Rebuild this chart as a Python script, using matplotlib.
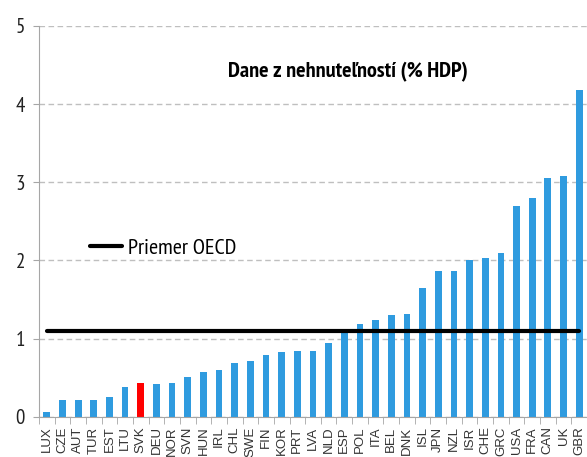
import matplotlib
matplotlib.use("Agg")
import matplotlib.pyplot as plt
from matplotlib.ticker import FixedLocator
from matplotlib import font_manager

countries = ["LUX", "CZE", "AUT", "TUR", "EST", "LTU", "SVK", "DEU", "NOR", "SVN",
             "HUN", "IRL", "CHL", "SWE", "FIN", "KOR", "PRT", "LVA", "NLD", "ESP",
             "POL", "ITA", "BEL", "DNK", "ISL", "JPN", "NZL", "ISR", "CHE", "GRC",
             "USA", "FRA", "CAN", "UK", "GBR"]
values = [0.06, 0.21, 0.22, 0.22, 0.25, 0.38, 0.43, 0.42, 0.43, 0.51,
          0.57, 0.60, 0.69, 0.71, 0.79, 0.83, 0.84, 0.84, 0.94, 1.08,
          1.18, 1.24, 1.30, 1.31, 1.65, 1.87, 1.87, 2.01, 2.03, 2.09,
          2.70, 2.80, 3.05, 3.08, 4.18]
highlight = "SVK"
oecd_avg = 1.10
yticks = [0, 1, 2, 3, 4, 5]
title = "Dane z nehnuteľností (% HDP)"
legend_label = "Priemer OECD"

candidates = ["Liberation Sans Narrow", "Arial Narrow", "PT Sans Narrow", "Roboto Condensed",
              "Archivo Narrow", "Asap Condensed", "Barlow Condensed"]
fl = font_manager.fontManager.ttflist
reg_names = {f.name for f in fl if f.style == "normal"}
bold_names = {f.name for f in fl if f.style == "normal" and isinstance(f.weight, int) and f.weight >= 700}
narrow = next((c for c in candidates if c in reg_names), "Liberation Sans")
narrow_b = next((c for c in candidates if c in bold_names), "Liberation Sans")

fig = plt.figure(figsize=(5.87, 4.57), dpi=100)
ax = fig.add_axes([39/587, 1 - 416.7/457, 1 - 39/587, (416.7 - 26)/457])

x = list(range(len(countries)))
colors = ["#FF0000" if c == highlight else "#2F9BDF" for c in countries]
ax.bar(x, values, width=0.43, color=colors, zorder=2)
ax.plot([0, len(countries) - 1], [oecd_avg, oecd_avg], color="black", lw=3, zorder=3,
        label=legend_label, solid_capstyle="round")

ax.set_xlim(-0.5, len(countries) - 0.5)
ax.set_ylim(0, 5)
ax.set_yticks(yticks)
ax.set_yticklabels([str(t) for t in yticks], fontsize=15, family=narrow, color="#222222")
ax.yaxis.grid(True, linestyle=(0, (4, 2.5)), color="#BFBFBF", lw=1, zorder=0)
ax.set_axisbelow(True)

ax.set_xticks(x)
ax.set_xticklabels(countries, rotation=90, fontsize=9.5, family="Liberation Sans", color="#333333")
ax.tick_params(axis="x", which="major", length=0, pad=7)
ax.xaxis.set_minor_locator(FixedLocator([i - 0.5 for i in range(len(countries) + 1)]))
ax.tick_params(axis="x", which="minor", length=5, color="#A6A6A6", direction="out")
ax.tick_params(axis="y", length=4, color="#A6A6A6", pad=6)

for s in ["top", "right"]:
    ax.spines[s].set_visible(False)
ax.spines["left"].set_color("#A6A6A6")
ax.spines["bottom"].set_color("#A6A6A6")

ax.text(0.563, 0.882, title, transform=ax.transAxes, ha="center", va="center",
        fontsize=16, fontweight="bold", family=narrow_b, color="black")

leg = ax.legend(loc="center left", bbox_to_anchor=(0.093, 0.432), frameon=False,
                prop={"family": narrow, "size": 16}, handlelength=1.45, handletextpad=0.25,
                borderaxespad=0, borderpad=0)

fig.savefig("out.png", dpi=100)
